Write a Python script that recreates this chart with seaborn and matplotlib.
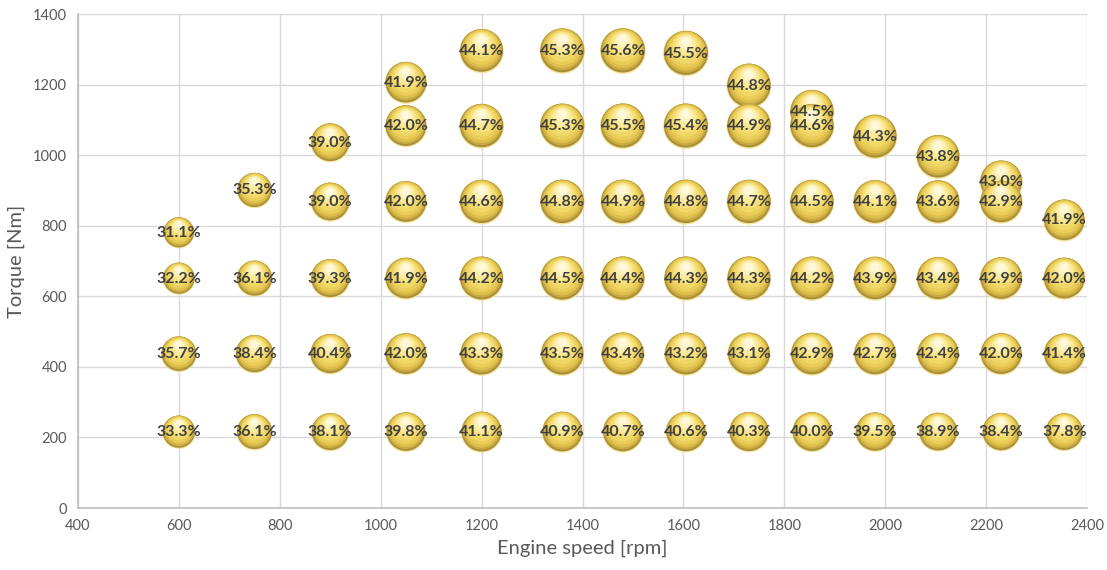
import numpy as np
import pandas as pd
import matplotlib
matplotlib.use("Agg")
import matplotlib.pyplot as plt
import seaborn as sns

# engine speed of each column [rpm]
speeds = [600, 750, 900, 1050, 1200, 1360, 1480, 1605, 1730, 1855, 1980, 2105, 2230, 2355]

# fixed torque rows [Nm] and efficiency per column (None = no point)
row_torques = [215, 436, 650, 867, 1082]
eff_215 = [33.3, 36.1, 38.1, 39.8, 41.1, 40.9, 40.7, 40.6, 40.3, 40.0, 39.5, 38.9, 38.4, 37.8]
eff_436 = [35.7, 38.4, 40.4, 42.0, 43.3, 43.5, 43.4, 43.2, 43.1, 42.9, 42.7, 42.4, 42.0, 41.4]
eff_650 = [32.2, 36.1, 39.3, 41.9, 44.2, 44.5, 44.4, 44.3, 44.3, 44.2, 43.9, 43.4, 42.9, 42.0]
eff_867 = [None, None, 39.0, 42.0, 44.6, 44.8, 44.9, 44.8, 44.7, 44.5, 44.1, 43.6, 42.9, None]
eff_1082 = [None, None, None, 42.0, 44.7, 45.3, 45.5, 45.4, 44.9, 44.6, None, None, None, None]

# full load points (top of each column)
full_torque = [780, 900, 1035, 1205, 1295, 1295, 1295, 1288, 1196, 1122, 1052, 995, 924, 815]
full_eff = [31.1, 35.3, 39.0, 41.9, 44.1, 45.3, 45.6, 45.5, 44.8, 44.5, 44.3, 43.8, 43.0, 41.9]

rows = []
for t, effs in zip(row_torques, [eff_215, eff_436, eff_650, eff_867, eff_1082]):
    for s, e in zip(speeds, effs):
        if e is not None:
            rows.append({"speed": s, "torque": t, "eff": e, "group": "grid"})
for s, t, e in zip(speeds, full_torque, full_eff):
    rows.append({"speed": s, "torque": t, "eff": e, "group": "full"})
df = pd.DataFrame(rows)

sns.set_style("white")
plt.rcParams["font.family"] = ["Lato", "DejaVu Sans"]

W, H = 1107, 570
fig = plt.figure(figsize=(W / 100, H / 100), dpi=100)
ax_l, ax_b, ax_w, ax_h = 78 / W, 62 / H, 1009 / W, 494 / H
ax = fig.add_axes([ax_l, ax_b, ax_w, ax_h])
ax.set_xlim(400, 2400)
ax.set_ylim(0, 1400)

px_per_y = ax_h * H / 1400.0

# shading layers: (size fraction, upward shift as fraction of radius, color)
layers = [
    (1.00, 0.00, "#F5E296"),
    (0.97, 0.03, "#A88E38"),
    (0.92, 0.07, "#C8AA42"),
    (0.86, 0.11, "#DEBF4C"),
    (0.78, 0.16, "#EACC58"),
    (0.68, 0.22, "#F1D866"),
    (0.56, 0.30, "#F6E17E"),
    (0.44, 0.38, "#FAEA9A"),
    (0.32, 0.46, "#FCF2BA"),
    (0.20, 0.52, "#FFF8DA"),
]

amax = 4000.0
for grp in ["full", "grid"]:
    d = df[df["group"] == grp].copy()
    for f, shift, c in layers:
        d["area"] = (0.72 * d["eff"] * f) ** 2
        d["ty"] = d["torque"] + shift * (d["eff"] / 2) / px_per_y
        sns.scatterplot(data=d, x="speed", y="ty", size="area",
                        sizes=(0, amax), size_norm=(0, amax),
                        color=c, linewidth=0, alpha=1, legend=False,
                        ax=ax, zorder=3)

for _, r in df.iterrows():
    ax.text(r["speed"], r["torque"], f"{r['eff']:.1f}%", ha="center", va="center",
            fontsize=11.5, fontweight="bold", color="#404040", zorder=5)

ax.set_xticks(np.arange(400, 2401, 200))
ax.set_yticks(np.arange(0, 1401, 200))
ax.grid(True, color="#D9D9D9", linewidth=1)
ax.set_axisbelow(True)
for side in ["top", "right"]:
    ax.spines[side].set_visible(False)
for side in ["left", "bottom"]:
    ax.spines[side].set_color("#BFBFBF")
    ax.spines[side].set_linewidth(1.2)
ax.tick_params(colors="#595959", labelsize=10.5, length=0, pad=8)
ax.set_xlabel("Engine speed [rpm]", fontsize=14.5, color="#595959", labelpad=5)
ax.set_ylabel("Torque [Nm]", fontsize=14.5, color="#595959", labelpad=6)

fig.savefig("out.png", dpi=100)
